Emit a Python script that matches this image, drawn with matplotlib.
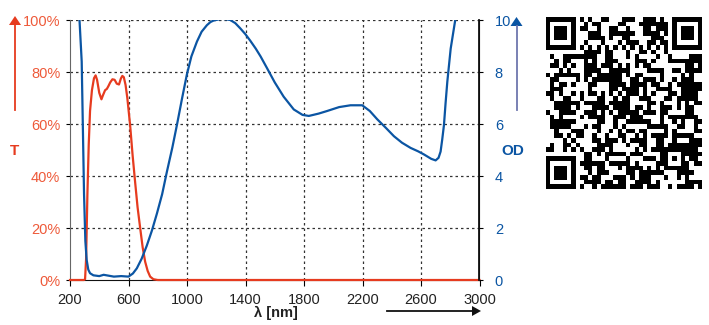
import numpy as np
import matplotlib.pyplot as plt
from matplotlib.patches import Polygon
from matplotlib.lines import Line2D

plt.rcParams['font.family'] = ['Liberation Sans', 'DejaVu Sans']

# transmission (%) of the filter
t_wl = [200, 295, 303, 310, 319, 328, 337, 350, 364, 375, 385, 400, 415, 425,
        440, 452, 462, 475, 490, 505, 520, 535, 548, 558, 568, 580, 592, 611,
        628, 645, 662, 680, 697, 714, 731, 748, 770, 800, 3000]
t_val = [0, 0, 0.3, 8, 33, 52, 65, 73, 77.6, 78.7, 77, 72, 69.5, 71,
         73, 73.5, 74.5, 76, 77.2, 77, 75.5, 75.2, 77.5, 78.5, 78, 75, 70, 59.6,
         48, 37.8, 28, 19.9, 12.5, 7, 3.5, 1.3, 0.3, 0, 0]

# optical density of the filter
od_wl = [250, 265, 280, 296, 305, 314, 325, 337, 360, 400, 430, 460, 500, 550,
         600, 630, 657, 690, 725, 760, 794, 830, 862, 900, 931, 965, 999, 1030,
         1068, 1100, 1136, 1160, 1182, 1240, 1296, 1330, 1364, 1400, 1433, 1470,
         1503, 1547, 1600, 1661, 1730, 1790, 1833, 1900, 1958, 2040, 2118, 2198,
         2250, 2301, 2360, 2415, 2470, 2529, 2580, 2620, 2670, 2700, 2720, 2734,
         2745, 2757, 2768, 2780, 2803, 2833, 2850]
od_val = [12, 10.0, 8.4, 3.3, 1.5, 0.77, 0.4, 0.26, 0.18, 0.15, 0.2, 0.17, 0.13, 0.15,
          0.13, 0.25, 0.45, 0.82, 1.32, 1.9, 2.55, 3.3, 4.15, 5.1, 5.96, 6.95, 7.9, 8.6,
          9.17, 9.55, 9.8, 9.92, 9.98, 10.05, 10.0, 9.88, 9.68, 9.45, 9.2, 8.9,
          8.6, 8.15, 7.6, 7.05, 6.56, 6.35, 6.31, 6.4, 6.5, 6.65, 6.72, 6.72,
          6.5, 6.18, 5.85, 5.53, 5.28, 5.08, 4.95, 4.83, 4.66, 4.6, 4.7, 4.94,
          5.4, 5.96, 6.8, 7.63, 8.9, 9.96, 10.6]

x_ticks = [200, 600, 1000, 1400, 1800, 2200, 2600, 3000]
t_ticks = [0, 20, 40, 60, 80, 100]
od_ticks = [0, 2, 4, 6, 8, 10]

RED = '#e63b1f'
RED_TXT = '#ee5a3a'
BLUE = '#0b55a3'
W, H = 709, 325


def px(x, y):
    return (x / W, 1 - y / H)


fig = plt.figure(figsize=(W / 100, H / 100), dpi=100)
ax = fig.add_axes([70 / W, 1 - 280 / H, (479.5 - 70) / W, 260 / H])
ax2 = ax.twinx()

ax.set_xlim(200, 3000)
ax.set_ylim(0, 100)
ax2.set_ylim(0, 10)

ax.set_xticks(x_ticks)
ax.set_yticks(t_ticks)
ax.set_yticklabels([f'{v}%' for v in t_ticks])
ax2.set_yticks(od_ticks)

# dotted grid
grid_kw = dict(color='#333333', lw=0.9, ls=(0, (2.0, 2.4)), zorder=0)
for v in x_ticks[1:-1]:
    ax.axvline(v, **grid_kw)
for v in t_ticks[1:]:
    ax.axhline(v, **grid_kw)

ax.plot(t_wl, t_val, color=RED, lw=1.6, zorder=3, clip_on=False)
ax2.plot(od_wl, od_val, color=BLUE, lw=1.6, zorder=3)

for a in (ax, ax2):
    a.spines['top'].set_visible(False)
ax.spines['left'].set_color('#666666')
ax.spines['bottom'].set_color('#111111')
ax2.spines['left'].set_visible(False)
ax2.spines['bottom'].set_visible(False)
ax2.spines['right'].set_color('#111111')
ax2.spines['right'].set_linewidth(1.3)

ax.tick_params(axis='x', direction='out', length=4, width=0.8, pad=5,
               labelsize=10.5, labelcolor='#222222')
ax.tick_params(axis='y', direction='out', length=3, width=0.8, pad=4,
               labelsize=10.5, labelcolor=RED_TXT)
ax2.tick_params(axis='y', direction='out', length=3, width=0.8, pad=8,
                labelsize=10.5, labelcolor=BLUE)
ax2.patch.set_visible(False)

# axis captions
fig.text(*px(14, 151), 'T', color=RED, fontsize=11, fontweight='bold',
         ha='center', va='center')
fig.text(*px(513, 151), 'OD', color=BLUE, fontsize=11, fontweight='bold',
         ha='center', va='center')
fig.text(*px(276, 313), 'λ [nm]', color='#222222', fontsize=10.5,
         fontweight='bold', ha='center', va='center')


def arrow(x0, y0, x1, y1, line_color, head_color, hl=9, hw=6):
    d = np.array([x1 - x0, y1 - y0], float)
    d /= np.hypot(*d)
    n = np.array([-d[1], d[0]])
    base = np.array([x1, y1]) - d * hl
    fig.add_artist(Line2D([px(x0, y0)[0], px(*base)[0]],
                          [px(x0, y0)[1], px(*base)[1]],
                          transform=fig.transFigure, color=line_color, lw=1.3))
    pts = [px(x1, y1), px(*(base + n * hw)), px(*(base - n * hw))]
    fig.add_artist(Polygon(pts, closed=True, transform=fig.transFigure,
                           color=head_color, lw=0))


arrow(15, 110, 15, 16, RED, RED)
arrow(516.5, 110, 516.5, 17, '#6e76ae', BLUE)
arrow(387, 311, 481, 311, '#111111', '#111111', hl=9, hw=5)

# QR code block
n = 37
qr = np.zeros((n, n), dtype=int)
r, c = np.indices((n, n))
qr[((r * 7919 + c * 104729) ^ (r * c * 31 + r + 3 * c)) % 11 < 6] = 1
for i0, j0 in [(0, 0), (0, n - 7), (n - 7, 0)]:
    qr[max(i0 - 1, 0):i0 + 8, max(j0 - 1, 0):j0 + 8] = 0
    qr[i0:i0 + 7, j0:j0 + 7] = 1
    qr[i0 + 1:i0 + 6, j0 + 1:j0 + 6] = 0
    qr[i0 + 2:i0 + 5, j0 + 2:j0 + 5] = 1
qr[28:33, 28:33] = 1
qr[29:32, 29:32] = 0
qr[30, 30] = 1
qr[6, 8:n - 8] = (np.arange(8, n - 8) + 1) % 2
qr[8:n - 8, 6] = (np.arange(8, n - 8) + 1) % 2

qax = fig.add_axes([546 / W, 1 - 189 / H, 156 / W, 172 / H])
qax.imshow(qr, cmap='Greys', aspect='auto', interpolation='nearest')
qax.axis('off')

fig.savefig('out.png', dpi=100)
